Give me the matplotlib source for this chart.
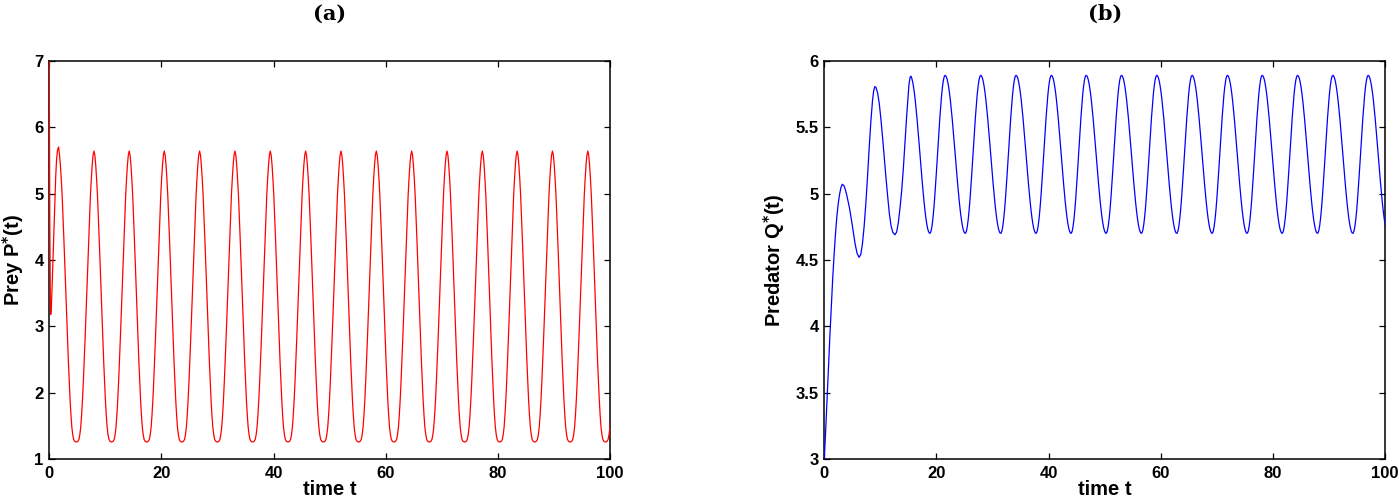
#!/usr/bin/env python3
"""
Prey / predator time series, two panels (a) and (b).
Values read off the reference picture: an initial transient followed by
one repeating cycle shape placed between the observed peak times.
"""

import matplotlib.pyplot as plt

# ---- data ----
x_ticks = [0, 20, 40, 60, 80, 100]
x_tick_labels = ['0', '20', '40', '60', '80', '100']

prey_yticks = [1, 2, 3, 4, 5, 6, 7]
prey_ytick_labels = ['1', '2', '3', '4', '5', '6', '7']
pred_yticks = [3, 3.5, 4, 4.5, 5, 5.5, 6]
pred_ytick_labels = ['3', '3.5', '4', '4.5', '5', '5.5', '6']

# prey: start-up part (t <= first peak)
prey_start_t = [0.0, 0.05, 0.10, 0.15, 0.20, 0.25, 0.30, 0.40, 0.55, 0.70,
                0.85, 1.00, 1.15, 1.30, 1.45, 1.60, 1.67]
prey_start_v = [7.0, 5.6, 4.5, 3.8, 3.35, 3.18, 3.2, 3.35, 3.7, 4.1,
                4.5, 4.9, 5.25, 5.5, 5.64, 5.69, 5.70]
# prey: times of the peaks, and one cycle (peak to peak) sampled in 40 steps
prey_peak_t = [1.67, 7.97, 14.25, 20.5, 26.8, 33.1, 39.4, 45.7, 52.0, 58.3,
               64.6, 70.9, 77.2, 83.4, 89.7, 96.0, 102.3]
prey_cycle = [5.64, 5.58, 5.43, 5.22, 4.97, 4.65, 4.30, 3.93, 3.56, 3.19,
              2.83, 2.49, 2.17, 1.89, 1.66, 1.48, 1.37, 1.30, 1.275, 1.265,
              1.26, 1.265, 1.275, 1.30, 1.37, 1.48, 1.66, 1.89, 2.17, 2.49,
              2.83, 3.19, 3.56, 3.93, 4.30, 4.65, 4.97, 5.22, 5.43, 5.58]

# predator: start-up part (t <= third peak)
pred_start_t = [0.0, 0.25, 0.5, 0.75, 1.0, 1.25, 1.5, 1.75, 2.0, 2.25,
                2.5, 2.75, 3.0, 3.2, 3.5, 3.75, 4.0, 4.5, 5.0, 5.5,
                5.85, 6.2, 6.5, 6.8, 7.1, 7.4, 7.7, 8.0, 8.3, 8.6,
                8.8, 9.0, 9.2, 9.5, 9.8, 10.1, 10.4, 10.7, 11.0, 11.3,
                11.6, 11.9, 12.2, 12.6, 12.9, 13.2, 13.5, 13.8, 14.1, 14.4,
                14.7, 14.95, 15.1, 15.3]
pred_start_v = [3.00, 3.22, 3.46, 3.70, 3.93, 4.15, 4.36, 4.54, 4.70, 4.83,
                4.93, 5.00, 5.05, 5.07, 5.06, 5.03, 4.99, 4.89, 4.76, 4.62,
                4.55, 4.52, 4.54, 4.62, 4.75, 4.92, 5.12, 5.34, 5.54, 5.70,
                5.77, 5.805, 5.80, 5.76, 5.68, 5.56, 5.42, 5.27, 5.12, 4.98,
                4.85, 4.76, 4.71, 4.69, 4.71, 4.78, 4.89, 5.02, 5.19, 5.39,
                5.59, 5.74, 5.82, 5.875]
pred_peak_t = [15.3, 21.55, 27.9, 34.2, 40.5, 46.7, 53.0, 59.3, 65.6, 71.9,
               78.1, 84.4, 90.7, 97.0, 103.3]
pred_cycle = [5.89, 5.884, 5.867, 5.839, 5.80, 5.752, 5.695, 5.63, 5.559, 5.482,
              5.402, 5.32, 5.237, 5.156, 5.077, 5.002, 4.934, 4.872, 4.818, 4.773,
              4.738, 4.715, 4.702, 4.702, 4.719, 4.755, 4.809, 4.878, 4.961, 5.055,
              5.157, 5.263, 5.37, 5.475, 5.573, 5.663, 5.742, 5.805, 5.852, 5.881]


def build_series(start_t, start_v, peak_t, cycle):
    """Start-up points, then the cycle laid out between consecutive peaks."""
    t = list(start_t)
    v = list(start_v)
    n = len(cycle)
    for t0, t1 in zip(peak_t[:-1], peak_t[1:]):
        for k, val in enumerate(cycle):
            tk = t0 + (t1 - t0) * k / n
            if tk <= t[-1]:
                continue
            t.append(tk)
            v.append(val)
    t.append(peak_t[-1])
    v.append(cycle[0])
    return t, v


def style_axes(ax, yticks, ylabels, ylim):
    ax.set_xlim(0, 100)
    ax.set_ylim(*ylim)
    ax.set_xticks(x_ticks)
    ax.set_xticklabels(x_tick_labels)
    ax.set_yticks(yticks)
    ax.set_yticklabels(ylabels)
    ax.tick_params(direction='in', top=True, right=True, length=4, width=0.9,
                   labelsize=12)
    ax.tick_params(axis='x', pad=5)
    ax.tick_params(axis='y', pad=4)
    for sp in ax.spines.values():
        sp.set_linewidth(1.1)


def main():
    plt.rcParams['font.family'] = ['Liberation Sans', 'DejaVu Sans']
    plt.rcParams['font.weight'] = 'bold'

    fig = plt.figure(figsize=(13.99, 4.98), dpi=100)
    ax1 = fig.add_axes([0.0352, 0.0777, 0.4010, 0.8004])
    ax2 = fig.add_axes([0.5892, 0.0777, 0.4008, 0.8004])

    prey_t, prey_v = build_series(prey_start_t, prey_start_v, prey_peak_t, prey_cycle)
    pred_t, pred_v = build_series(pred_start_t, pred_start_v, pred_peak_t, pred_cycle)

    ax1.plot(prey_t, prey_v, color='#ff0000', linewidth=0.9, zorder=3)
    ax2.plot(pred_t, pred_v, color='#0000ff', linewidth=0.9, zorder=3)

    style_axes(ax1, prey_yticks, prey_ytick_labels, (1, 7))
    style_axes(ax2, pred_yticks, pred_ytick_labels, (3, 6))

    ax1.set_ylabel(r'Prey P$^{*}$(t)', fontsize=14.5, fontweight='bold')
    ax2.set_ylabel(r'Predator Q$^{*}$(t)', fontsize=14.5, fontweight='bold')
    ax1.yaxis.set_label_coords(-0.042, 0.5)
    ax2.yaxis.set_label_coords(-0.066, 0.5)

    for ax in (ax1, ax2):
        ax.set_xlabel('time t', fontsize=14.5, fontweight='bold')
        ax.xaxis.set_label_coords(0.5, -0.052)

    for ax, tag in ((ax1, '(a)'), (ax2, '(b)')):
        ax.text(0.5, 1.117, tag, transform=ax.transAxes, ha='center',
                va='center', fontsize=15, fontweight='bold',
                family='DejaVu Serif')

    fig.savefig('out.png', dpi=100)


if __name__ == "__main__":
    main()
